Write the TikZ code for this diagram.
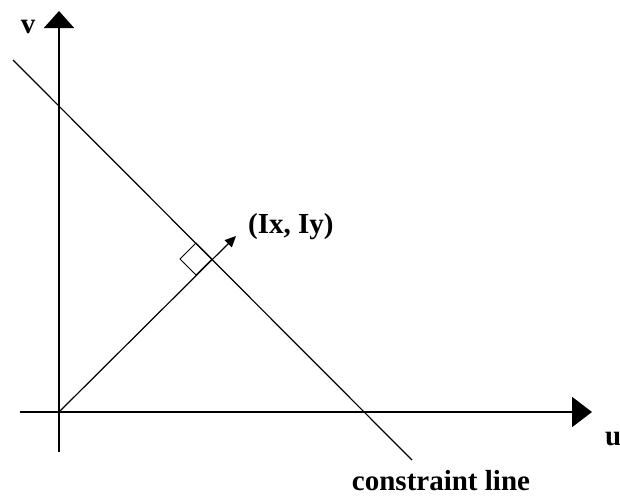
\documentclass[tikz,border=0pt]{standalone}
\usepackage{fontspec}
\setmainfont{Liberation Serif}
\usetikzlibrary{arrows.meta}
\begin{document}
\begin{tikzpicture}[x=1pt,y=-1pt,
  axis/.style={line width=2pt, draw=black},
  thinline/.style={line width=1.2pt, draw=black},
  lbl/.style={font=\fontsize{29}{34}\selectfont\bfseries, inner sep=0pt}]
\useasboundingbox (0,0) rectangle (620,496);
\coordinate (O) at (59,412);
\coordinate (vb) at (59,452);
\coordinate (vt) at (59,11);
\coordinate (ul) at (20,412);
\coordinate (ur) at (592,412);
\coordinate (ct) at (13,60);
\coordinate (cb) at (412,460);
\coordinate (F) at (212,259);
\coordinate (T) at (236,236);
\draw[axis, -{Triangle[length=17pt,width=30pt]}] (vb) -- (vt);
\draw[axis, -{Triangle[length=20pt,width=30pt]}] (ul) -- (ur);
\draw[thinline] (ct) -- (cb);
\draw[thinline, -{Triangle[length=11pt,width=10pt]}] (O) -- (T);
\draw[line width=1pt] (F) -- ++(-16,16) -- ++(-16,-16) -- ++(16,-16) -- cycle;
\node[lbl, anchor=base] (v) at (28,33) {v};
\node[lbl, anchor=base west] (u) at (605,445) {u};
\node[lbl, anchor=base west] (I) at (248,233) {(Ix, Iy)};
\node[lbl, anchor=base] (c) at (441,490) {constraint line};
\end{tikzpicture}
\end{document}
